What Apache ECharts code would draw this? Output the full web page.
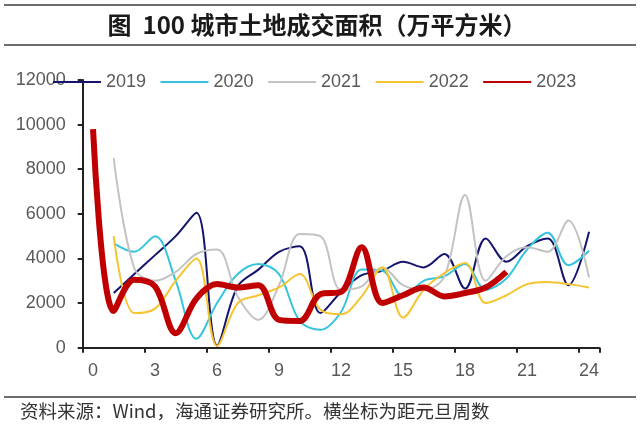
<!DOCTYPE html>
<html>
<head>
<meta charset="utf-8">
<script src="https://cdn.jsdelivr.net/npm/echarts@6/dist/echarts.min.js"></script>
<style>
html,body{margin:0;padding:0;background:#fff;}
#c{width:640px;height:429px;}
</style>
</head>
<body>
<div id="c"></div>
<script>
// Weeks since New Year (category axis)
var weeks = ['0','1','2','3','4','5','6','7','8','9','10','11','12','13','14','15','16','17','18','19','20','21','22','23','24'];
var seriesNames = ['2019','2020','2021','2022','2023'];
// 100-city land transaction area (10k sqm)
var s2019 = [null, 2450, 3300, 4150, 5000, 6050, 100, 2750, 3500, 4300, 4550, 1550, 2500, 3250, 3450, 3850, 3600, 4200, 2650, 4900, 3850, 4550, 4900, 2800, 5200];
var s2020 = [null, 4680, 4300, 5000, 3000, 400, 2000, 3300, 3750, 3300, 1200, 800, 1600, 3500, 3450, 2300, 3000, 3200, 3750, 2600, 3100, 4400, 5150, 3700, 4350];
var s2021 = [null, 8500, 3550, 3000, 3400, 4200, 4400, 2300, 1250, 2800, 5100, 5000, 2600, 2750, 3600, 2800, 2600, 3200, 6850, 3000, 4100, 4500, 4300, 5700, 3150];
var s2022 = [null, 5000, 1550, 1750, 3000, 4000, 80, 2000, 2350, 2700, 3300, 1700, 1500, 2300, 3600, 1350, 2600, 3350, 3800, 2000, 2350, 2850, 2950, 2850, 2700];
var s2023 = [9800, 1650, 3050, 2750, 650, 2200, 2850, 2700, 2800, 1250, 1200, 2400, 2500, 4500, 2000, 2350, 2700, 2300, 2450, 2700, 3400];
var yTicks = [0, 2000, 4000, 6000, 8000, 10000, 12000];

var titleText = '图  100 城市土地成交面积（万平方米）';
var sourceText = '资料来源：Wind，海通证券研究所。横坐标为距元旦周数';

var colors = ['#14146E', '#36C4DC', '#C3C3C3', '#F4C531', '#C00000'];
var widths = [2, 2, 2, 2, 6];
var allData = [s2019, s2020, s2021, s2022, s2023];

var chart = echarts.init(document.getElementById('c'), null, {renderer: 'canvas'});
var labelFont = 'Liberation Sans, Arial, sans-serif';

var series = seriesNames.map(function (n, i) {
  return {
    name: n,
    type: 'line',
    data: allData[i],
    smooth: 0.35,
    symbol: 'none',
    z: 2 + i,
    lineStyle: {color: colors[i], width: widths[i]},
    itemStyle: {color: colors[i]}
  };
});

chart.setOption({
  animation: false,
  backgroundColor: '#fff',
  title: {
    text: titleText,
    left: 312,
    textAlign: 'center',
    top: 8,
    textStyle: {fontSize: 24, fontWeight: 'bold', color: '#1a1a1a', fontFamily: 'Noto Sans CJK SC'}
  },
  legend: {
    data: seriesNames,
    left: 52,
    top: 73,
    padding: 0,
    itemGap: 13.5,
    itemWidth: 48,
    itemHeight: 14,
    itemStyle: {opacity: 0},
    textStyle: {fontSize: 18, color: '#595959', fontFamily: labelFont}
  },
  grid: {left: 82.7, right: 40.6, top: 80, bottom: 81.3, containLabel: false},
  xAxis: {
    type: 'category',
    data: weeks,
    boundaryGap: true,
    axisLine: {lineStyle: {color: '#222', width: 2}},
    axisTick: {show: true, interval: 2, length: 5, lineStyle: {color: '#222', width: 2}},
    axisLabel: {interval: 2, fontSize: 18, color: '#595959', margin: 14, fontFamily: labelFont},
    splitLine: {show: false}
  },
  yAxis: {
    type: 'value',
    min: yTicks[0],
    max: yTicks[yTicks.length - 1],
    interval: 2000,
    axisLine: {show: true, lineStyle: {color: '#222', width: 2}},
    axisTick: {show: true, length: 5, lineStyle: {color: '#222', width: 2}},
    axisLabel: {fontSize: 18, color: '#595959', margin: 17, fontFamily: labelFont,
      formatter: function (v) { return String(v); }},
    splitLine: {show: false}
  },
  graphic: [
    {type: 'line', shape: {x1: 4, y1: 5, x2: 636, y2: 5}, style: {stroke: '#3a3a3a', lineWidth: 1.5}},
    {type: 'line', shape: {x1: 4, y1: 45, x2: 636, y2: 45}, style: {stroke: '#3a3a3a', lineWidth: 1.5}},
    {type: 'line', shape: {x1: 4, y1: 397, x2: 636, y2: 397}, style: {stroke: '#3a3a3a', lineWidth: 1.5}},
    {type: 'text', left: 20, top: 402, style: {text: sourceText, font: '18.5px "Noto Sans CJK SC"', fill: '#333'}}
  ],
  series: series
});
</script>
</body>
</html>
